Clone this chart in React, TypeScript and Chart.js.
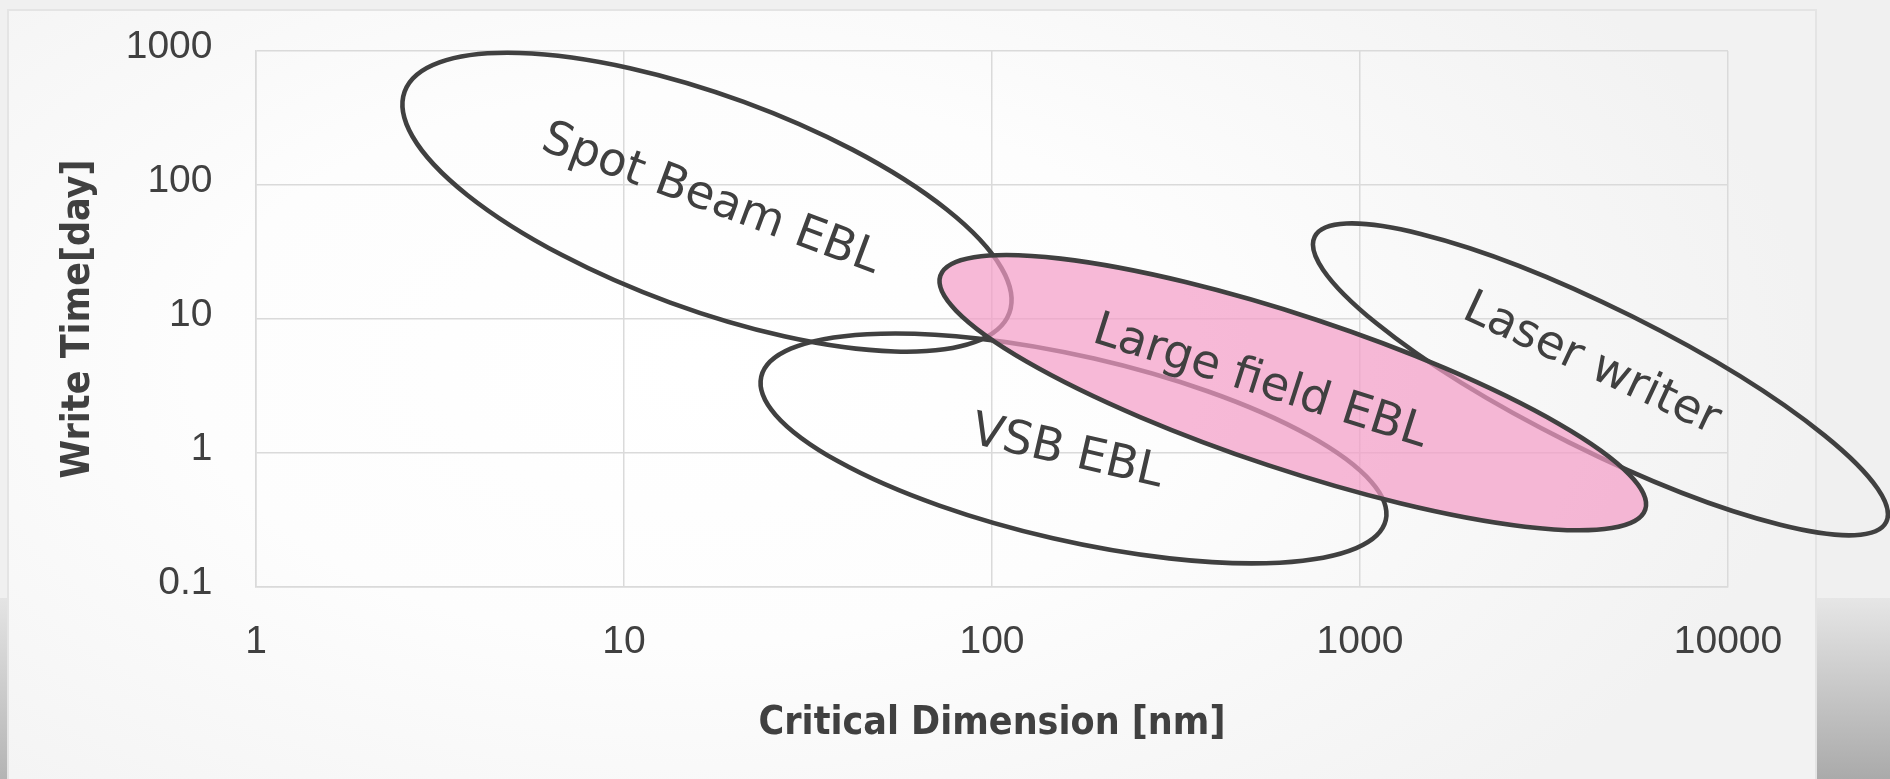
import { useEffect, useRef } from "react";
import { Chart, registerables } from "chart.js";

Chart.register(...registerables);

// ---------- data ----------
const xTickValues = [1, 10, 100, 1000, 10000];
const xTickLabels = ["1", "10", "100", "1000", "10000"];
const yTickValues = [0.1, 1, 10, 100, 1000];
const yTickLabels = ["0.1", "1", "10", "100", "1000"];

const xTitle = "Critical Dimension [nm]";
const yTitle = "Write Time[day]";

const regionNames = ["Spot Beam EBL", "VSB EBL", "Laser writer", "Large field EBL"];

// extreme points of each region outline, [CD nm, days]: leftmost, rightmost, topmost, bottommost
const spotBeamEdges = [[2.5, 410], [113, 13.8], [4.9, 970], [58, 5.7]];
const vsbEdges = [[23.5, 3.4], [1180, 0.355], [56, 7.8], [520, 0.15]];
const laserEdges = [[745, 35.6], [27200, 0.355], [940, 51.7], [21500, 0.243]];
const largeFieldEdges = [[72, 19.5], [5990, 0.42], [110, 30], [3960, 0.265]];

// centre of each region's label, [CD nm, days]
const labelAnchors = [[17.2, 77.5], [160, 1.0], [4250, 4.55], [535, 3.35]];

// ---------- styles ----------
const regionFills = [null, null, null, "rgba(244,156,199,0.71)"];
const labelAngles = [20.4, 13, 25, 17.7];
const ink = "#404040";
const gridColor = "#dadada";

type P = { x: number; y: number };

function fitEllipse(p: P[]) {
  const [L, R, T, B] = p;
  const cx = (L.x + R.x) / 2;
  const cy = (T.y + B.y) / 2;
  const W = (R.x - L.x) / 2;
  const H = (B.y - T.y) / 2;
  const sxy = ((cx - T.x) * H + (B.x - cx) * H + (R.y - cy) * W + (cy - L.y) * W) / 4;
  const sxx = W * W;
  const syy = H * H;
  const m = (sxx + syy) / 2;
  const d = Math.sqrt(((sxx - syy) / 2) ** 2 + sxy * sxy);
  const a = Math.sqrt(m + d);
  const b = Math.sqrt(Math.max(m - d, 1));
  const t = 0.5 * Math.atan2(2 * sxy, sxx - syy);
  return { cx, cy, a, b, t };
}

const regionPlugin = {
  id: "regions",
  afterDatasetsDraw(chart: any) {
    const ctx = chart.ctx as CanvasRenderingContext2D;
    const xs = chart.scales.x;
    const ys = chart.scales.y;
    ctx.save();
    chart.data.datasets.forEach((ds: any, i: number) => {
      const pts = ds.data.map((d: any) => ({ x: xs.getPixelForValue(d.x), y: ys.getPixelForValue(d.y) }));
      const g = fitEllipse(pts);
      ctx.beginPath();
      ctx.ellipse(g.cx, g.cy, g.a, g.b, g.t, 0, Math.PI * 2);
      const f = regionFills[i];
      if (f) {
        ctx.fillStyle = f;
        ctx.fill();
      }
      ctx.lineWidth = 4.6;
      ctx.strokeStyle = ink;
      ctx.stroke();
    });
    ctx.fillStyle = ink;
    ctx.font = "46.5px 'DejaVu Sans'";
    ctx.textAlign = "center";
    ctx.textBaseline = "middle";
    regionNames.forEach((name, i) => {
      const [vx, vy] = labelAnchors[i];
      ctx.save();
      ctx.translate(xs.getPixelForValue(vx), ys.getPixelForValue(vy));
      ctx.rotate((labelAngles[i] * Math.PI) / 180);
      ctx.fillText(name, 0, 0);
      ctx.restore();
    });
    ctx.restore();
  },
};

export default function App() {
  const ref = useRef<HTMLCanvasElement | null>(null);

  useEffect(() => {
    if (!ref.current) return;
    const edges = [spotBeamEdges, vsbEdges, laserEdges, largeFieldEdges];
    const chart = new Chart(ref.current, {
      type: "scatter",
      data: {
        datasets: edges.map((e, i) => ({
          label: regionNames[i],
          data: e.map(([x, y]) => ({ x, y })),
          pointRadius: 0,
          showLine: false,
        })),
      },
      options: {
        responsive: false,
        animation: false,
        devicePixelRatio: 1,
        layout: { padding: { left: 0, top: 51, right: 162, bottom: 0 } },
        plugins: { legend: { display: false }, tooltip: { enabled: false } },
        scales: {
          x: {
            type: "logarithmic",
            min: 1,
            max: 10000,
            afterBuildTicks: (s: any) => {
              s.ticks = xTickValues.map((v) => ({ value: v }));
            },
            afterFit: (s: any) => {
              s.height = 192;
              s.paddingLeft = 0;
              s.paddingRight = 0;
              s.paddingTop = 0;
              s.paddingBottom = 0;
            },
            ticks: {
              callback: (_v: any, i: number) => xTickLabels[i],
              font: { family: "'Liberation Sans'", size: 39 },
              color: ink,
              padding: 32,
              maxRotation: 0,
              autoSkip: false,
            },
            grid: { color: gridColor, lineWidth: 1.5, drawTicks: false },
            border: { display: true, color: gridColor, width: 1.5 },
            title: {
              display: true,
              text: xTitle,
              font: { family: "'DejaVu Sans Condensed'", size: 39, weight: "bold" },
              color: ink,
              padding: { top: 0, bottom: 32 },
            },
          },
          y: {
            type: "logarithmic",
            min: 0.1,
            max: 1000,
            afterBuildTicks: (s: any) => {
              s.ticks = yTickValues.map((v) => ({ value: v }));
            },
            afterFit: (s: any) => {
              s.width = 256;
              s.paddingLeft = 0;
              s.paddingRight = 0;
              s.paddingTop = 0;
              s.paddingBottom = 0;
            },
            ticks: {
              callback: (_v: any, i: number) => yTickLabels[i],
              font: { family: "'Liberation Sans'", size: 39 },
              color: ink,
              padding: 43.5,
              labelOffset: -4,
              autoSkip: false,
            },
            grid: { color: gridColor, lineWidth: 1.5, drawTicks: false },
            border: { display: true, color: gridColor, width: 1.5 },
            title: {
              display: true,
              text: yTitle,
              font: { family: "'DejaVu Sans Condensed'", size: 39, weight: "bold" },
              color: ink,
              padding: { top: 55, bottom: 0 },
            },
          },
        },
      },
      plugins: [regionPlugin],
    } as any);
    return () => chart.destroy();
  }, []);

  return (
    <div
      style={{
        position: "fixed",
        left: 0,
        top: 0,
        width: 1890,
        height: 779,
        overflow: "hidden",
        background: "#f0f0f0",
      }}
    >
      <div
        style={{
          position: "absolute",
          left: 0,
          top: 598,
          width: 7,
          height: 181,
          background: "linear-gradient(to bottom, #e4e4e4, #b4b4b4)",
        }}
      />
      <div
        style={{
          position: "absolute",
          left: 1817,
          top: 598,
          width: 73,
          height: 181,
          background: "linear-gradient(to bottom, #e6e6e6, #aaaaaa)",
        }}
      />
      <div
        style={{
          position: "absolute",
          left: 7,
          top: 9,
          width: 1806,
          height: 790,
          border: "2px solid #e4e4e4",
          background:
            "radial-gradient(ellipse 62% 78% at 38% 45%, #ffffff 0%, #fdfdfd 45%, #f2f2f2 100%)",
        }}
      />
      <canvas
        ref={ref}
        width={1890}
        height={779}
        style={{ position: "absolute", left: 0, top: 0, width: 1890, height: 779 }}
      />
    </div>
  );
}
